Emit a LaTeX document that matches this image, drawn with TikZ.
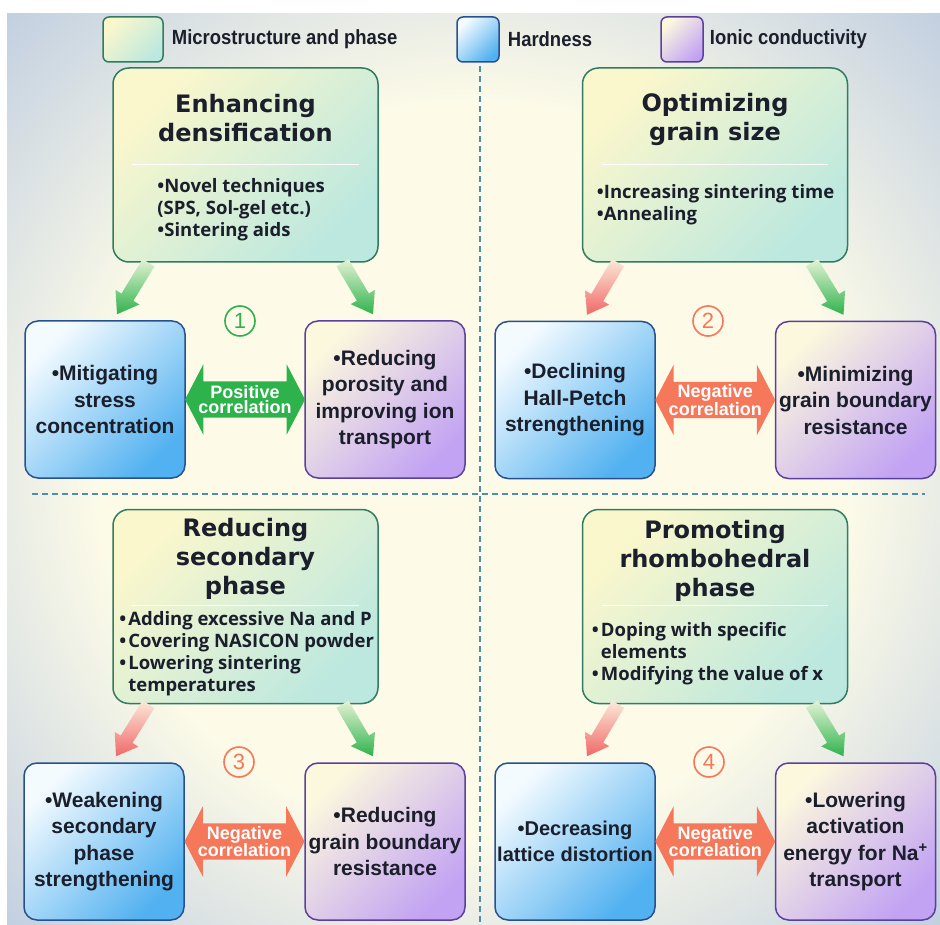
\documentclass[tikz,border=0pt]{standalone}
\usepackage{fontspec}
\setmainfont{Liberation Sans}
\newfontfamily\headfont{DejaVu Sans}
\newfontfamily\listfont{Open Sans}
\newfontfamily\narrowfont{Liberation Sans}[FakeStretch=0.9]
\usepackage{tikz}
\usetikzlibrary{calc,positioning,shapes.arrows}
\definecolor{bgin}{HTML}{FDFBE8}
\definecolor{bgout}{HTML}{8AA6DA}
\definecolor{topA}{HTML}{FBF7CC}
\definecolor{topB}{HTML}{BCE8DF}
\definecolor{topline}{HTML}{2F7C61}
\definecolor{hardA}{HTML}{F4FBFF}
\definecolor{hardB}{HTML}{52B1F0}
\definecolor{hardline}{HTML}{27508F}
\definecolor{ionA}{HTML}{FCF8DE}
\definecolor{ionB}{HTML}{C2A3F3}
\definecolor{ionline}{HTML}{5A3F9E}
\definecolor{posgreen}{HTML}{2EB34C}
\definecolor{negorange}{HTML}{F5785A}
\definecolor{negred}{HTML}{F06868}
\definecolor{dashblue}{HTML}{4F8DB5}
\definecolor{inkdark}{HTML}{1B1E2B}
\pgfdeclareradialshading{bgglow}{\pgfpoint{0bp}{0bp}}{color(0bp)=(bgin); color(20bp)=(bgin); color(50bp)=(bgout); color(75bp)=(bgout)}
\tikzstyle{topbox}=[draw=topline, line width=1.5pt, rounded corners=16pt, top color=topA, bottom color=topB, shading angle=45, minimum width=265pt, minimum height=194pt, inner sep=0pt]
\tikzstyle{hardbox}=[draw=hardline, line width=1.5pt, rounded corners=13pt, top color=hardA, bottom color=hardB, shading angle=45, minimum width=160pt, minimum height=157pt, inner sep=0pt, align=center, text=inkdark, font=\bfseries\fontsize{21}{26.5}\selectfont]
\tikzstyle{ionbox}=[hardbox, draw=ionline, top color=ionA, bottom color=ionB, shading angle=45]
\tikzstyle{titletext}=[font=\headfont\bfseries\fontsize{24}{29}\selectfont, text=inkdark, align=center, inner sep=0pt]
\tikzstyle{listtext}=[font=\listfont\bfseries\fontsize{18.5}{22}\selectfont, text=inkdark, inner sep=0pt, anchor=north west]
\tikzstyle{legendtext}=[font=\narrowfont\bfseries\fontsize{20.5}{22}\selectfont, text=inkdark, inner sep=0pt]
\tikzstyle{sepline}=[white, line width=1.2pt]
\tikzstyle{divider}=[dashblue, line width=1.3pt, dash pattern=on 6pt off 4pt]
\tikzstyle{corrarrow}=[double arrow, double arrow head extend=17pt, double arrow tip angle=125, minimum height=120pt, minimum width=0pt, inner xsep=0pt, inner ysep=18pt]
\tikzstyle{corrlabel}=[font=\bfseries\fontsize{18}{15.5}\selectfont, text=white, align=center, inner sep=0pt]
\tikzstyle{stepnum}=[circle, line width=1.6pt, minimum size=30pt, inner sep=0pt, font=\fontsize{22}{22}\selectfont]
\newcommand{\fatarrow}[3]{%
	% tail, tip, colour
	\pgfmathsetmacro{\fashaft}{7}
	\pgfmathsetmacro{\fahead}{14}
	\pgfmathsetmacro{\falen}{20}
	\coordinate (faneck) at ($(#2)!\falen pt!(#1)$);
	\shade[top color=#3!12!bgin, bottom color=#3]
	($(#1)!\fashaft pt!90:(#2)$) -- ($(faneck)!\fashaft pt!-90:(#1)$)
	-- ($(faneck)!\fahead pt!-90:(#1)$) -- (#2)
	-- ($(faneck)!\fahead pt!90:(#1)$) -- ($(faneck)!\fashaft pt!90:(#1)$)
	-- ($(#1)!\fashaft pt!-90:(#2)$) -- cycle;
}
\begin{document}
\begin{tikzpicture}[x=1pt,y=-1pt]
	\useasboundingbox (0,0) rectangle (940,925);
	\shade[shading=bgglow] (7,14) rectangle (940,925);
	\draw[divider] (32,494) -- (925,494);
	\draw[divider] (480,66) -- (480,925);
	% legend
	\node[topbox, minimum width=60pt, minimum height=45pt, rounded corners=6pt] (lgmicro) at (133,39.5) {};
	\node[legendtext, right=8pt of lgmicro] (lgmicrotxt) {Microstructure and phase};
	\node[hardbox, minimum width=42pt, minimum height=45pt, rounded corners=6pt] (lghard) at (478,39.5) {};
	\node[legendtext, right=8pt of lghard] (lghardtxt) {Hardness};
	\node[ionbox, minimum width=42pt, minimum height=45pt, rounded corners=6pt] (lgion) at (682,39.5) {};
	\node[legendtext, right=6pt of lgion] (lgiontxt) {Ionic conductivity};
	% (1) densification
	\node[topbox] (q1top) at (245.5,165) {};
	\node[titletext, below=27pt of q1top.north] (q1title) {Enhancing\\densification};
	\draw[sepline] ([xshift=20pt,yshift=-97pt]q1top.north west) -- ([xshift=-20pt,yshift=-97pt]q1top.north east);
	\node[listtext, align=left] (q1list) at ([xshift=45pt,yshift=-111pt]q1top.north west) {•Novel techniques\\(SPS, Sol-gel etc.)\\•Sintering aids};
	\node[hardbox] (q1l) at (105,399.5) {•Mitigating\\stress\\concentration};
	\node[ionbox] (q1r) at (385,399.5) {•Reducing\\porosity and\\improving ion\\transport};
	\node[corrarrow, fill=posgreen, label={[corrlabel]center:{Positive\\correlation}}] (q1c) at ($(q1l.east)!0.5!(q1r.west)$) {};
	\node[stepnum, draw=posgreen, text=posgreen] (q1n) at (240,321) {1};
	\coordinate (q1a) at ([xshift=-97pt]q1top.south);
	\coordinate (q1b) at ([xshift=12pt,yshift=6pt]q1l.north);
	\coordinate (q1d) at ([xshift=97pt]q1top.south);
	\coordinate (q1e) at ([xshift=-12pt,yshift=6pt]q1r.north);
	\fatarrow{q1a}{q1b}{posgreen}
	\fatarrow{q1d}{q1e}{posgreen}
	% (2) grain size
	\node[topbox] (q2top) at (715,165) {};
	\node[titletext, below=26pt of q2top.north] (q2title) {Optimizing\\grain size};
	\draw[sepline] ([xshift=20pt,yshift=-97pt]q2top.north west) -- ([xshift=-20pt,yshift=-97pt]q2top.north east);
	\node[listtext, align=left] (q2list) at ([xshift=15pt,yshift=-117pt]q2top.north west) {•Increasing sintering time\\•Annealing};
	\node[hardbox] (q2l) at (575,400) {•Declining\\Hall-Petch\\strengthening};
	\node[ionbox] (q2r) at (855.5,400) {•Minimizing\\grain boundary\\resistance};
	\node[corrarrow, fill=negorange, label={[corrlabel]center:{Negative\\correlation}}] (q2c) at ($(q2l.east)!0.5!(q2r.west)$) {};
	\node[stepnum, draw=negorange, text=negorange] (q2n) at (708,321) {2};
	\coordinate (q2a) at ([xshift=-97pt]q2top.south);
	\coordinate (q2b) at ([xshift=12pt,yshift=6pt]q2l.north);
	\coordinate (q2d) at ([xshift=97pt]q2top.south);
	\coordinate (q2e) at ([xshift=-12pt,yshift=6pt]q2r.north);
	\fatarrow{q2a}{q2b}{negred}
	\fatarrow{q2d}{q2e}{posgreen}
	% (3) secondary phase
	\node[topbox] (q3top) at (245.5,606.5) {};
	\node[titletext, below=9pt of q3top.north] (q3title) {Reducing\\secondary\\phase};
	\draw[sepline] ([xshift=20pt,yshift=-97pt]q3top.north west) -- ([xshift=-20pt,yshift=-97pt]q3top.north east);
	\node[listtext] (q3list) at ([xshift=7pt,yshift=-101pt]q3top.north west) {\begin{tabular}{@{}l@{\hspace{2pt}}l@{}}•&Adding excessive Na and P\\•&Covering NASICON powder\\•&Lowering sintering\\&temperatures\end{tabular}};
	\node[hardbox] (q3l) at (104,841.5) {•Weakening\\secondary\\phase\\strengthening};
	\node[ionbox] (q3r) at (385,841.5) {•Reducing\\grain boundary\\resistance};
	\node[corrarrow, fill=negorange, label={[corrlabel]center:{Negative\\correlation}}] (q3c) at ($(q3l.east)!0.5!(q3r.west)$) {};
	\node[stepnum, draw=negorange, text=negorange] (q3n) at (239,762) {3};
	\coordinate (q3a) at ([xshift=-97pt]q3top.south);
	\coordinate (q3b) at ([xshift=12pt,yshift=6pt]q3l.north);
	\coordinate (q3d) at ([xshift=97pt]q3top.south);
	\coordinate (q3e) at ([xshift=-12pt,yshift=6pt]q3r.north);
	\fatarrow{q3a}{q3b}{negred}
	\fatarrow{q3d}{q3e}{posgreen}
	% (4) rhombohedral phase
	\node[topbox] (q4top) at (715,606.5) {};
	\node[titletext, below=11pt of q4top.north] (q4title) {Promoting\\rhombohedral\\phase};
	\draw[sepline] ([xshift=20pt,yshift=-97pt]q4top.north west) -- ([xshift=-20pt,yshift=-97pt]q4top.north east);
	\node[listtext] (q4list) at ([xshift=10pt,yshift=-112pt]q4top.north west) {\begin{tabular}{@{}l@{\hspace{2pt}}l@{}}•&Doping with specific\\&elements\\•&Modifying the value of x\end{tabular}};
	\node[hardbox, font=\bfseries\fontsize{20}{26.5}\selectfont] (q4l) at (575,841.5) {•Decreasing\\lattice distortion};
	\node[ionbox] (q4r) at (855.5,841.5) {•Lowering\\activation\\energy for Na\textsuperscript{+}\\transport};
	\node[corrarrow, fill=negorange, label={[corrlabel]center:{Negative\\correlation}}] (q4c) at ($(q4l.east)!0.5!(q4r.west)$) {};
	\node[stepnum, draw=negorange, text=negorange] (q4n) at (709,762) {4};
	\coordinate (q4a) at ([xshift=-97pt]q4top.south);
	\coordinate (q4b) at ([xshift=12pt,yshift=6pt]q4l.north);
	\coordinate (q4d) at ([xshift=97pt]q4top.south);
	\coordinate (q4e) at ([xshift=-12pt,yshift=6pt]q4r.north);
	\fatarrow{q4a}{q4b}{negred}
	\fatarrow{q4d}{q4e}{posgreen}
\end{tikzpicture}
\end{document}
